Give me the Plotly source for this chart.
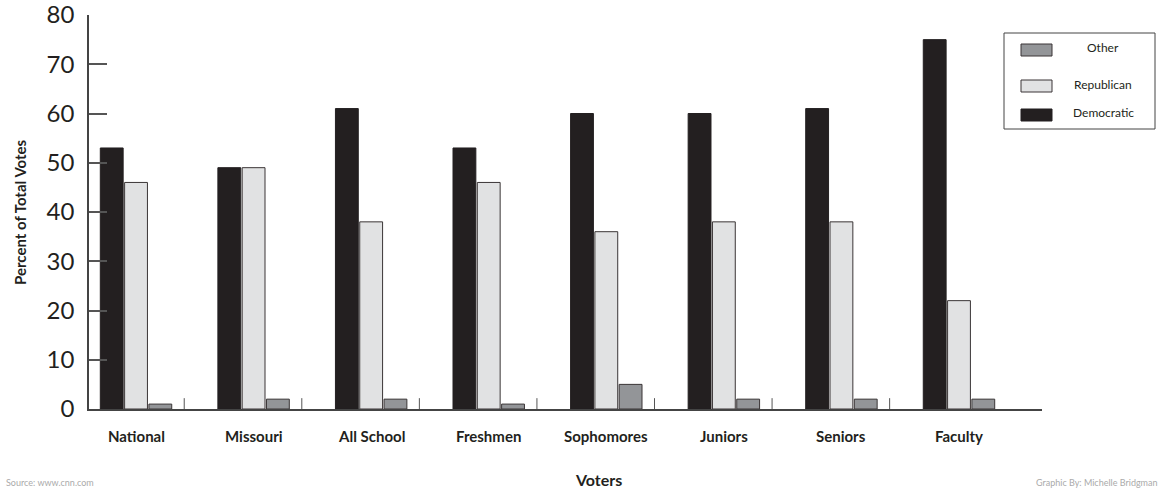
import plotly.graph_objects as go

# Voter groups and vote share (percent of total votes)
groups = ["National", "Missouri", "All School", "Freshmen",
          "Sophomores", "Juniors", "Seniors", "Faculty"]
democratic = [53, 49, 61, 53, 60, 60, 61, 75]
republican = [46, 49, 38, 46, 36, 38, 38, 22]
other = [1, 2, 2, 1, 5, 2, 2, 2]
y_ticks = [0, 10, 20, 30, 40, 50, 60, 70, 80]

DEM_COLOR = "#231f20"
REP_COLOR = "#e1e2e3"
OTH_COLOR = "#939598"
EDGE = "#3a3536"
TEXT = "#231f20"
FONT = "Lato"

x_idx = list(range(len(groups)))

fig = go.Figure()
fig.add_trace(go.Bar(name="Democratic", x=x_idx, y=democratic,
                     marker=dict(color=DEM_COLOR, line=dict(color=DEM_COLOR, width=1))))
fig.add_trace(go.Bar(name="Republican", x=x_idx, y=republican,
                     marker=dict(color=REP_COLOR, line=dict(color=EDGE, width=1))))
fig.add_trace(go.Bar(name="Other", x=x_idx, y=other,
                     marker=dict(color=OTH_COLOR, line=dict(color=EDGE, width=1))))

# short separators after each group on the baseline
shapes = []
for i in x_idx[:-1]:
    shapes.append(dict(type="line", xref="x", yref="y", x0=i + 0.41, x1=i + 0.41,
                       y0=0, y1=2.2, line=dict(color="#555555", width=1)))

# legend box drawn in paper space with wide swatches
lx0, lx1 = 1004, 1155
W, H = 1163, 489
pl, pr, pt, pb = 89, 121, 15, 80
pw, ph = W - pl - pr, H - pt - pb


def px(x):
    return (x - pl) / pw


def py(y):
    return 1 - (y - pt) / ph


shapes.append(dict(type="rect", xref="paper", yref="paper",
                   x0=px(lx0), x1=px(lx1), y0=py(129), y1=py(33),
                   line=dict(color="#444444", width=1), fillcolor="white"))
legend_items = [("Other", OTH_COLOR, EDGE, 50),
                ("Republican", REP_COLOR, EDGE, 86),
                ("Democratic", DEM_COLOR, DEM_COLOR, 115)]
annotations = []
for label, fill, edge, yc in legend_items:
    shapes.append(dict(type="rect", xref="paper", yref="paper",
                       x0=px(1021), x1=px(1052), y0=py(yc + 6), y1=py(yc - 6),
                       line=dict(color=edge, width=1), fillcolor=fill))
    annotations.append(dict(text=label, xref="paper", yref="paper",
                            x=px(1103), y=py(yc - 2), xanchor="center", yanchor="middle",
                            showarrow=False, font=dict(family=FONT, size=12, color=TEXT)))

# category labels
for i, g in enumerate(groups):
    annotations.append(dict(text="<b>%s</b>" % g, xref="x", yref="paper",
                            x=i, y=py(436), xanchor="center", yanchor="middle",
                            showarrow=False, font=dict(family=FONT, size=15, color=TEXT)))

annotations.append(dict(text="<b>Voters</b>", xref="paper", yref="paper",
                        x=px(598), y=py(479), xanchor="center", yanchor="middle",
                        showarrow=False, font=dict(family=FONT, size=16, color=TEXT)))
annotations.append(dict(text="<b>Percent of Total Votes</b>", xref="paper", yref="paper",
                        x=px(20), y=py(212), xanchor="center", yanchor="middle",
                        textangle=-90, showarrow=False,
                        font=dict(family=FONT, size=15, color=TEXT)))
annotations.append(dict(text="Source: www.cnn.com", xref="paper", yref="paper",
                        x=px(4), y=py(482), xanchor="left", yanchor="middle",
                        showarrow=False, font=dict(family=FONT, size=9, color="#aaaaaa")))
annotations.append(dict(text="Graphic By: Michelle Bridgman", xref="paper", yref="paper",
                        x=px(1160), y=py(482), xanchor="right", yanchor="middle",
                        showarrow=False, font=dict(family=FONT, size=9, color="#aaaaaa")))

fig.update_layout(
    width=W, height=H,
    margin=dict(l=pl, r=pr, t=pt, b=pb, autoexpand=False),
    paper_bgcolor="white", plot_bgcolor="white",
    barmode="group", bargap=0.38, bargroupgap=0.06,
    showlegend=False,
    shapes=shapes, annotations=annotations,
    xaxis=dict(range=[-0.4, 7.706], showticklabels=False, ticks="",
               automargin=False,
               showgrid=False, zeroline=False, showline=True,
               linecolor="#444444", linewidth=1.5),
    yaxis=dict(range=[0, 80], tickvals=y_ticks, ticks="inside", ticklen=18,
               tickcolor="#555555", tickwidth=1.5, ticklabelstandoff=8,
               ticklabeloverflow="allow", automargin=False,
               showgrid=False, zeroline=False, showline=True,
               linecolor="#444444", linewidth=1.5,
               tickfont=dict(family=FONT, size=24, color=TEXT)),
    font=dict(family=FONT, color=TEXT),
)

fig.write_html("out.html")
